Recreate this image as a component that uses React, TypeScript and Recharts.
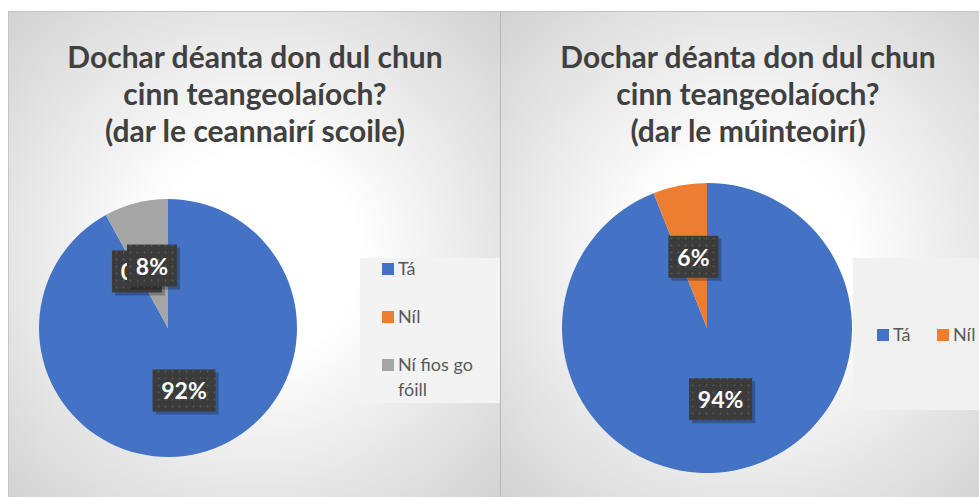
import React from "react";
import { PieChart, Pie, Cell, Legend } from "recharts";

// ceannairí scoile
const namesLeft = ["Tá", "Níl", "Ní fios go fóill"];
const valuesLeft = [92, 0, 8];
// múinteoirí
const namesRight = ["Tá", "Níl"];
const valuesRight = [94, 6];

const COLORS = ["#4472C4", "#ED7D31", "#A5A5A5"];

const FONT = "Lato, 'Open Sans', sans-serif";

const dataLeft = namesLeft.map((name, i) => ({ name, value: valuesLeft[i] }));
const dataRight = namesRight.map((name, i) => ({ name, value: valuesRight[i] }));

const RADIAN = Math.PI / 180;
const NO_MARGIN = { top: 0, right: 0, bottom: 0, left: 0 };

function renderLabel(props: any) {
  const { cx, cy, midAngle, outerRadius, percent, index } = props;
  const r = outerRadius * 0.5;
  const x = cx + r * Math.cos(-midAngle * RADIAN);
  const y = cy + r * Math.sin(-midAngle * RADIAN);
  const txt = `${Math.round(percent * 100)}%`;
  const w = txt.length > 2 ? 63 : 50;
  const h = 42;
  const pid = `dots-${cx}-${index}`;
  return (
    <g>
      <defs>
        <pattern id={pid} width="7" height="7" patternUnits="userSpaceOnUse">
          <rect width="7" height="7" fill="#3b3b3b" />
          <circle cx="3.5" cy="3.5" r="0.9" fill="#5a5a5a" />
        </pattern>
      </defs>
      <rect x={x - w / 2 + 3} y={y - h / 2 + 3} width={w} height={h} fill="rgba(0,0,0,0.25)" />
      <rect x={x - w / 2} y={y - h / 2} width={w} height={h} fill={`url(#${pid})`} />
      <text
        x={x}
        y={y}
        fill="#ffffff"
        textAnchor="middle"
        dominantBaseline="central"
        style={{ fontFamily: FONT, fontWeight: 700, fontSize: 23 }}
      >
        {txt}
      </text>
    </g>
  );
}

// keep legend in data order
const ordered = (payload: any[], names: string[]) =>
  [...(payload || [])].sort((a, b) => names.indexOf(a.value) - names.indexOf(b.value));

function VerticalLegend({ payload }: any) {
  return (
    <div style={{ position: "relative", width: "100%", height: "100%" }}>
      {ordered(payload, namesLeft).map((p: any, i: number) => (
        <div
          key={i}
          style={{
            position: "absolute",
            left: 22,
            top: -2 + i * 48,
            display: "flex",
            alignItems: "flex-start",
            fontFamily: FONT,
            fontSize: 18,
            lineHeight: "25px",
            color: "#595959",
          }}
        >
          <span style={{ width: 12, height: 12, background: p.color, marginTop: 7, marginRight: 4, flex: "none" }} />
          <span style={{ maxWidth: 95 }}>{p.value}</span>
        </div>
      ))}
    </div>
  );
}

function HorizontalLegend({ payload }: any) {
  return (
    <div style={{ position: "relative", width: "100%", height: "100%" }}>
      {ordered(payload, namesRight).map((p: any, i: number) => (
        <div
          key={i}
          style={{
            position: "absolute",
            left: 24 + i * 60,
            top: 64,
            display: "flex",
            alignItems: "flex-start",
            fontFamily: FONT,
            fontSize: 18,
            lineHeight: "25px",
            color: "#595959",
          }}
        >
          <span style={{ width: 12, height: 12, background: p.color, marginTop: 7, marginRight: 4, flex: "none" }} />
          <span>{p.value}</span>
        </div>
      ))}
    </div>
  );
}

function Title({ lines, center }: { lines: string[]; center: number }) {
  return (
    <div
      style={{
        position: "absolute",
        left: center - 250,
        width: 500,
        top: 26,
        textAlign: "center",
        fontFamily: FONT,
        fontWeight: 700,
        fontSize: 30,
        lineHeight: "37px",
        color: "#404040",
      }}
    >
      {lines.map((l, i) => (
        <div key={i}>{l}</div>
      ))}
    </div>
  );
}

const panelBg = "radial-gradient(ellipse at 50% 50%, #ffffff 0%, #ffffff 30%, #d2d2d2 100%)";

export default function App() {
  return (
    <div
      style={{
        position: "absolute",
        left: 0,
        top: 0,
        width: 979,
        height: 497,
        overflow: "hidden",
        background: "#ffffff",
      }}
    >
      {/* left panel */}
      <div
        style={{
          position: "absolute",
          left: 8,
          top: 11,
          width: 492,
          height: 490,
          background: panelBg,
          borderLeft: "1px solid #c4c4c4",
          borderTop: "1px solid #c4c4c4",
          boxSizing: "border-box",
        }}
      >
        <Title
          lines={["Dochar déanta don dul chun", "cinn teangeolaíoch?", "(dar le ceannairí scoile)"]}
          center={246}
        />
        <div style={{ position: "absolute", left: -1, top: -1 }}>
          <PieChart width={492} height={490} margin={NO_MARGIN}>
            <Pie
              data={dataLeft}
              dataKey="value"
              nameKey="name"
              cx={160}
              cy={317}
              outerRadius={129}
              startAngle={90}
              endAngle={-270}
              stroke="none"
              label={renderLabel}
              labelLine={false}
              isAnimationActive={false}
            >
              {dataLeft.map((_, i) => (
                <Cell key={i} fill={COLORS[i % COLORS.length]} />
              ))}
            </Pie>
            <Legend
              content={<VerticalLegend />}
              wrapperStyle={{ left: 352, top: 247, width: 140, height: 145, background: "#f3f3f3" }}
            />
          </PieChart>
        </div>
      </div>

      {/* right panel */}
      <div
        style={{
          position: "absolute",
          left: 500,
          top: 11,
          width: 492,
          height: 490,
          background: panelBg,
          borderLeft: "1px solid #b8b8b8",
          borderTop: "1px solid #c4c4c4",
          boxSizing: "border-box",
        }}
      >
        <Title
          lines={["Dochar déanta don dul chun", "cinn teangeolaíoch?", "(dar le múinteoirí)"]}
          center={247}
        />
        <div style={{ position: "absolute", left: -1, top: -1 }}>
          <PieChart width={492} height={490} margin={NO_MARGIN}>
            <Pie
              data={dataRight}
              dataKey="value"
              nameKey="name"
              cx={207}
              cy={317}
              outerRadius={145}
              startAngle={90}
              endAngle={-270}
              stroke="none"
              label={renderLabel}
              labelLine={false}
              isAnimationActive={false}
            >
              {dataRight.map((_, i) => (
                <Cell key={i} fill={COLORS[i % COLORS.length]} />
              ))}
            </Pie>
            <Legend
              content={<HorizontalLegend />}
              wrapperStyle={{ left: 353, top: 247, width: 140, height: 152, background: "#f1f1f1" }}
            />
          </PieChart>
        </div>
      </div>
    </div>
  );
}
